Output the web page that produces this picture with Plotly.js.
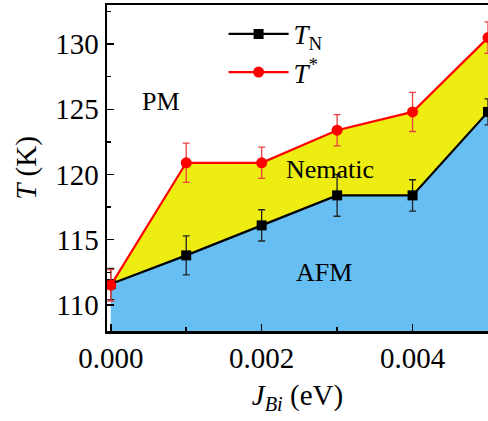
<!DOCTYPE html>
<html>
<head>
<meta charset="utf-8">
<script src="https://cdn.plot.ly/plotly-3.0.1.min.js"></script>
<style>
html,body{margin:0;padding:0;background:#fff;}
#chart{width:488px;height:421px;}
#dbg{position:absolute;left:0;top:360px;font:10px monospace;word-break:break-all;width:488px;color:rgba(255,255,255,0);pointer-events:none;}
</style>
</head>
<body>
<div id="chart"></div>
<div id="dbg"></div>
<script>
const jBi = [0.000, 0.001, 0.002, 0.003, 0.004, 0.005];
const tN = [111.6, 113.8, 116.1, 118.4, 118.4, 124.8];
const tNErr = [1.2, 1.5, 1.2, 1.6, 1.2, 1.0];
const tStar = [111.5, 120.9, 120.9, 123.4, 124.8, 130.5];
const tStarErr = [1.2, 1.5, 1.2, 1.2, 1.5, 1.2];
const regionLabels = ['PM', 'Nematic', 'AFM'];

const FONT = 'Liberation Serif';

const traces = [
  {x: jBi, y: tN, mode: 'none', fill: 'tozeroy', fillcolor: '#66BEF2', showlegend: false, hoverinfo: 'skip'},
  {x: jBi, y: tStar, mode: 'none', fill: 'tonexty', fillcolor: '#EDED12', showlegend: false, hoverinfo: 'skip'},
  {x: jBi, y: tN, mode: 'lines+markers', name: '<i>T</i><sub>N</sub>', legendgroup: 'a',
   line: {color: '#000000', width: 2.2},
   marker: {symbol: 'square', size: 10, color: '#000000'},
   error_y: {type: 'data', array: tNErr, visible: true, color: '#222222', thickness: 1.3, width: 3.5}},
  {x: jBi, y: tStar, mode: 'lines+markers', name: '<i>T</i><sup>*</sup>', legendgroup: 'b',
   line: {color: '#FF0000', width: 2.2},
   marker: {symbol: 'circle', size: 11, color: '#FF0000'},
   error_y: {type: 'data', array: tStarErr, visible: true, color: '#F04040', thickness: 1.3, width: 3.5}}
];

const layout = {
  width: 488, height: 421,
  margin: {l: 107, r: 0, t: 5, b: 90},
  paper_bgcolor: '#ffffff', plot_bgcolor: '#ffffff',
  font: {family: FONT, size: 28, color: '#000000'},
  showlegend: true,
  legend: {x: 0.306, y: 0.985, xanchor: 'left', yanchor: 'top', bgcolor: 'rgba(0,0,0,0)',
           traceorder: 'normal',
           font: {family: FONT, size: 27}, tracegroupgap: 5, itemwidth: 60},
  xaxis: {
    range: [-0.00005, 0.005], showgrid: false, zeroline: false,
    showline: true, linecolor: '#000', linewidth: 2.5, mirror: true,
    ticks: 'inside', ticklen: 7, tickwidth: 1.5, tickcolor: '#000',
    dtick: 0.002, tick0: 0, tickformat: '.3f',
    minor: {dtick: 0.001, ticks: 'inside', ticklen: 4, tickwidth: 1.5, tickcolor: '#000'},
    tickfont: {family: FONT, size: 29, color: '#000'},
    title: {text: '<i>J</i><sub><i>Bi</i></sub> (eV)', font: {family: FONT, size: 29, color: '#000'}, standoff: 12}
  },
  yaxis: {
    range: [108, 133], showgrid: false, zeroline: false,
    showline: true, linecolor: '#000', linewidth: 2.5, mirror: false,
    ticks: 'inside', ticklen: 7, tickwidth: 1.5, tickcolor: '#000',
    dtick: 5, tick0: 110,
    minor: {dtick: 2.5, ticks: 'inside', ticklen: 4, tickwidth: 1.5, tickcolor: '#000'},
    tickfont: {family: FONT, size: 29, color: '#000'},
    title: {text: '<i>T</i> (K)', font: {family: FONT, size: 29, color: '#000'}, standoff: 10}
  },
  annotations: [
    {x: 0.00066, y: 125.6, xref: 'x', yref: 'y', text: regionLabels[0], showarrow: false, font: {family: FONT, size: 26}},
    {x: 0.0029, y: 120.4, xref: 'x', yref: 'y', text: regionLabels[1], showarrow: false, font: {family: FONT, size: 26}},
    {x: 0.00283, y: 112.5, xref: 'x', yref: 'y', text: regionLabels[2], showarrow: false, font: {family: FONT, size: 26}}
  ]
};

Plotly.newPlot('chart', traces, layout, {displayModeBar: false, staticPlot: true}).then(() => {
  const t = document.querySelector('.ytick text');
  const tt = document.querySelector('.g-ytitle text');
  document.getElementById('dbg').textContent = 'N=' + document.querySelectorAll('.ytick text').length +
    ' TICK[' + (t ? t.textContent + '|' + getComputedStyle(t).fontFamily : 'none') +
    '] TITLE[' + (tt ? getComputedStyle(tt).fontFamily : 'none') + ']';
});
</script>
</body>
</html>
